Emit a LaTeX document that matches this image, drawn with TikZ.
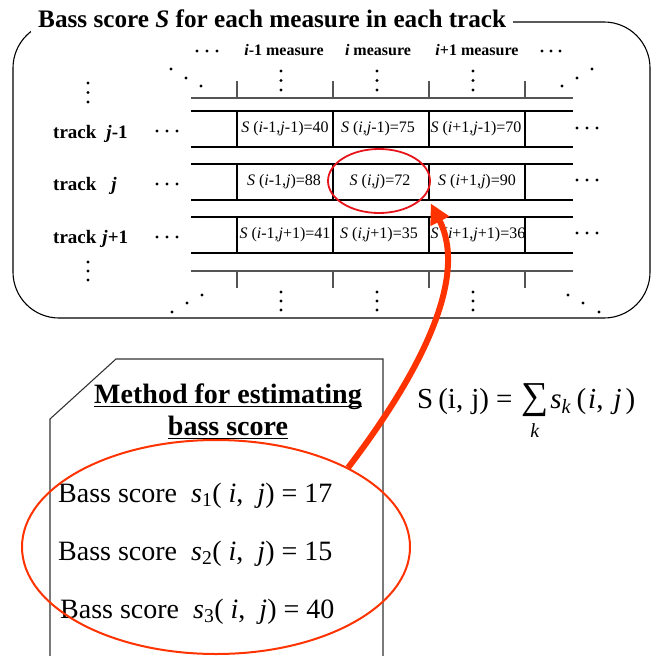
\documentclass[tikz,border=0pt]{standalone}
\usepackage{fontspec}
\setmainfont{Liberation Serif}
\usetikzlibrary{shapes.geometric,arrows.meta}
\definecolor{arrowred}{HTML}{FF3300}
\definecolor{circred}{HTML}{E8141B}
\definecolor{rulegray}{HTML}{555555}
\begin{document}
\begin{tikzpicture}[x=1pt,y=-1pt,
  tableline/.style={line width=1.2pt, black},
  ruleline/.style={line width=1.2pt, rulegray},
  hdr/.style={anchor=base, inner sep=0pt, font=\fontsize{16}{18}\selectfont\bfseries},
  trk/.style={anchor=base west, inner sep=0pt, font=\fontsize{19}{21}\selectfont\bfseries},
  cellt/.style={inner sep=0pt, font=\fontsize{16}{18}\selectfont},
  mtitle/.style={anchor=base, inner sep=0pt, font=\fontsize{28}{32}\selectfont\bfseries},
  bline/.style={anchor=base west, inner sep=0pt, font=\fontsize{28}{32}\selectfont},
  ring/.style={ellipse, inner sep=0pt}]
\useasboundingbox (0,0) rectangle (660,655);

% outer rounded frame with title
\draw[line width=1.1pt, rounded corners=46pt] (13,22) rectangle (650,318);
\node[anchor=base west, fill=white, inner xsep=7pt, inner ysep=4pt,
      font=\fontsize{25.2}{29}\selectfont\bfseries] (title) at (31,28)
      {Bass score \textit{S} for each measure in each track};

% column headers
\node[hdr] (h1) at (284,56) {\textit{i}-1 measure};
\node[hdr] (h2) at (378,56) {\textit{i} measure};
\node[hdr] (h3) at (477,56) {\textit{i}+1 measure};

% rulers
\draw[ruleline] (191,98) -- (573,98);
\draw[ruleline] (191,271) -- (573,271);
\foreach \x in {237,333,429,525}{
  \draw[ruleline] (\x,81) -- (\x,98);
  \draw[ruleline] (\x,271) -- (\x,288);
}

% rows
\foreach \t in {111,164,217}{
  \draw[tableline] (191,\t) -- (573,\t);
  \draw[tableline] (191,\t+36) -- (573,\t+36);
  \foreach \x in {237,333,429,525}{
    \draw[tableline] (\x,\t) -- (\x,\t+36);
  }
}

% cell texts
\node[cellt] (c11) at (285,129) {\textit{S} (\textit{i}-1,\textit{j}-1)=40};
\node[cellt] (c21) at (378,129) {\textit{S} (\textit{i},\textit{j}-1)=75};
\node[cellt] (c31) at (476,129) {\textit{S} (\textit{i}+1,\textit{j}-1)=70};
\node[cellt] (c12) at (284,182) {\textit{S} (\textit{i}-1,\textit{j})=88};
\node[cellt] (c22) at (380,182) {\textit{S} (\textit{i},\textit{j})=72};
\node[cellt] (c32) at (477,182) {\textit{S} (\textit{i}+1,\textit{j})=90};
\node[cellt] (c13) at (285,235) {\textit{S} (\textit{i}-1,\textit{j}+1)=41};
\node[cellt] (c23) at (379,235) {\textit{S} (\textit{i},\textit{j}+1)=35};
\node[cellt] (c33) at (478,235) {\textit{S} (\textit{i}+1,\textit{j}+1)=36};

% track labels
\node[trk] (t1) at (53,139) {track\hspace{10pt}\textit{j}-1};
\node[trk] (t2) at (53,190) {track\hspace{15pt}\textit{j}};
\node[trk] (t3) at (53,243) {track\hspace{6pt}\textit{j}+1};

% dots
\foreach \p in {(197,51),(207,51),(217,51),(542,51),(551,51),(560,51),
  (171,69),(186,78),(201,86),(562,86),(577,78),(592,69),
  (281,71),(281,80.5),(281,90),(377,71),(377,80.5),(377,90),(473,71),(473,80.5),(473,90),
  (88,83),(88,92.5),(88,102),(88,262),(88,271),(88,280),
  (157,131),(167,131),(177,131),(157,184),(167,184),(177,184),(157,237),(167,237),(177,237),
  (577,128),(587,128),(597,128),(577,180),(587,180),(597,180),(577,233),(587,233),(597,233),
  (281,292),(281,301),(281,310),(377,292),(377,301),(377,310),(473,292),(473,301),(473,310),
  (172,312),(187,303),(202,295),(568,295),(583,303),(599,312)}
  \fill \p circle (1.7);

% highlighted cell
\node[ring, draw=circred, line width=1.8pt, minimum width=102pt, minimum height=64pt] (sel) at (379,181) {};

% method box
\draw[line width=1.1pt, black!80] (50,670) -- (50,419) -- (116,359) -- (383,359) -- (383,670);
\node[mtitle] (m1) at (228,403) {Method for estimating};
\node[mtitle] (m2) at (228,435) {bass score};
\draw[line width=1.6pt] ([yshift=-3.5pt]m1.base west) -- ([yshift=-3.5pt]m1.base east);
\draw[line width=1.6pt] ([yshift=-3.5pt]m2.base west) -- ([yshift=-3.5pt]m2.base east);

\node[bline] (b1) at (58,502) {Bass score\ \ \textit{s}\textsubscript{1}(\ \textit{i},\ \ \textit{j}) = 17};
\node[bline] (b2) at (58,560) {Bass score\ \ \textit{s}\textsubscript{2}(\ \textit{i},\ \ \textit{j}) = 15};
\node[bline] (b3) at (60,618) {Bass score\ \ \textit{s}\textsubscript{3}(\ \textit{i},\ \ \textit{j}) = 40};

% formula
\node[anchor=base west, inner sep=0pt, font=\fontsize{29}{32}\selectfont] (f) at (417,408)
  {S\hspace{5pt}(i,\hspace{8pt}j)\hspace{7pt}=\hspace{9pt}\begin{tabular}[t]{@{}c@{}}{\fontsize{38}{38}\selectfont ∑}\\[-3pt]{\fontsize{20}{20}\selectfont\textit{k}}\end{tabular}\hspace{2pt}\textit{s}\textsubscript{\textit{k}}\hspace{5pt}(\hspace{2pt}\textit{i},\hspace{10pt}\textit{j}\hspace{4pt})};

% big ellipse
\node[ring, draw=arrowred, line width=2pt, minimum width=388pt, minimum height=214pt] (bel) at (216,547) {};

% arrow
\draw[arrowred, line width=6pt, -{Triangle[length=20pt,width=20pt]}]
  (bel.31.5) .. controls (415,380) and (470,280) .. ([shift={(10,3)}]sel.-25);
\end{tikzpicture}
\end{document}
